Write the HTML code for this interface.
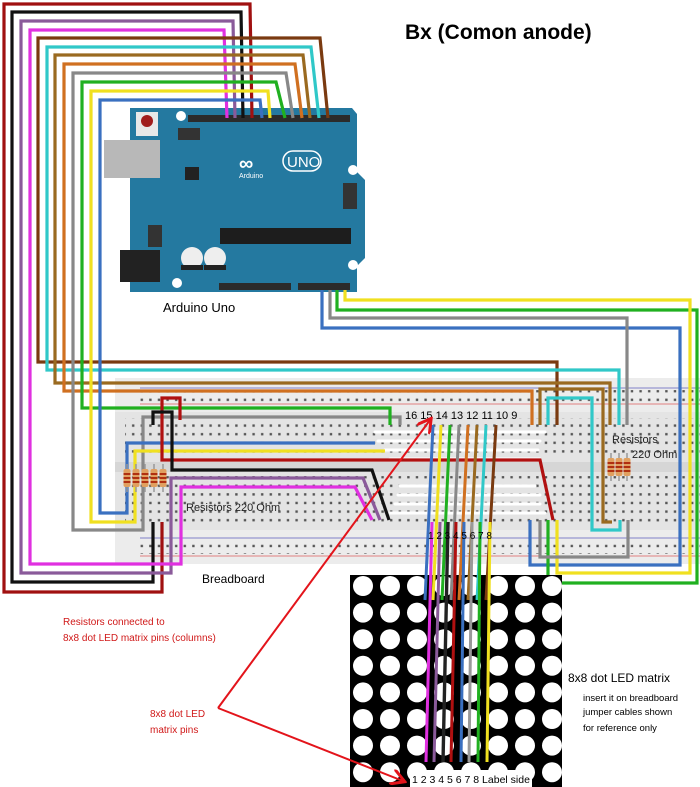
<!DOCTYPE html>
<html><head><meta charset="utf-8"><style>
html,body{margin:0;padding:0;background:#fff}
svg{display:block}
text{font-family:"Liberation Sans",sans-serif}
</style></head><body>
<svg width="700" height="787" viewBox="0 0 700 787" xmlns="http://www.w3.org/2000/svg">
<defs>
<pattern id="dots" x="0" y="0" width="8.6" height="8.6" patternUnits="userSpaceOnUse"><rect x="3" y="3" width="2.4" height="2.4" fill="#555"/></pattern>
<marker id="ah" markerWidth="8" markerHeight="8" refX="6" refY="4" orient="auto" markerUnits="strokeWidth"><path d="M0,0 L7,4 L0,8" fill="none" stroke="#e3141b" stroke-width="1.5"/></marker>
<g id="res"><line x1="0" y1="-14" x2="0" y2="14" stroke="#999" stroke-width="1.5"/><rect x="-3.5" y="-9" width="7" height="18" rx="2" fill="#e0a060"/><rect x="-3.5" y="-5" width="7" height="2" fill="#b03010"/><rect x="-3.5" y="-1" width="7" height="2" fill="#b03010"/><rect x="-3.5" y="3" width="7" height="2" fill="#b03010"/></g>
</defs>
<text x="405" y="39" font-size="21" font-weight="bold" fill="#000">Bx (Comon anode)</text>

<!-- breadboard -->
<rect x="115" y="378" width="585" height="186" fill="#e4e4e4"/>
<rect x="115" y="378" width="585" height="34" fill="#ececec"/>
<rect x="115" y="530" width="585" height="34" fill="#ececec"/>
<rect x="115" y="462" width="585" height="10" fill="#d6d6d6"/>
<line x1="140" y1="388" x2="700" y2="388" stroke="#8080c8" stroke-width="1"/>
<line x1="140" y1="404" x2="700" y2="404" stroke="#e08080" stroke-width="1"/>
<line x1="140" y1="538" x2="700" y2="538" stroke="#8080c8" stroke-width="1"/>
<line x1="140" y1="556" x2="700" y2="556" stroke="#e08080" stroke-width="1"/>
<rect x="140" y="390" width="560" height="12" fill="url(#dots)"/>
<rect x="140" y="540" width="560" height="14" fill="url(#dots)"/>
<rect x="125" y="418" width="575" height="40" fill="url(#dots)"/>
<rect x="125" y="476" width="575" height="48" fill="url(#dots)"/>
<g stroke="#fff" stroke-width="3" stroke-linecap="round">
<line x1="375" y1="432" x2="545" y2="432"/><line x1="378" y1="441" x2="540" y2="441"/><line x1="385" y1="450" x2="538" y2="450"/><line x1="390" y1="459" x2="540" y2="459"/>
<line x1="400" y1="486" x2="535" y2="486"/><line x1="398" y1="495" x2="540" y2="495"/><line x1="395" y1="504" x2="540" y2="504"/><line x1="390" y1="513" x2="545" y2="513"/>
</g>

<!-- arduino -->
<path d="M130,108 H352 L357,114 V172 L365,180 V258 L357,266 V292 H130 Z" fill="#2479a0"/>
<rect x="104" y="140" width="56" height="38" fill="#b8b8b8"/>
<rect x="120" y="250" width="40" height="32" fill="#222"/>
<rect x="136" y="112" width="22" height="24" fill="#e8e8e8"/><circle cx="147" cy="121" r="6" fill="#a01c1c"/>
<circle cx="181" cy="116" r="5" fill="#fff"/><circle cx="177" cy="283" r="5" fill="#fff"/><circle cx="353" cy="170" r="5" fill="#fff"/><circle cx="353" cy="265" r="5" fill="#fff"/>
<rect x="178" y="128" width="22" height="12" fill="#333"/>
<rect x="188" y="115" width="162" height="7" fill="#2b2b2b"/>
<rect x="220" y="228" width="131" height="16" fill="#1d1d1d"/>
<rect x="219" y="283" width="72" height="7" fill="#2b2b2b"/><rect x="298" y="283" width="52" height="7" fill="#2b2b2b"/>
<rect x="185" y="167" width="14" height="13" fill="#222"/>
<rect x="148" y="225" width="14" height="22" fill="#333"/>
<rect x="343" y="183" width="14" height="26" fill="#333"/>
<circle cx="192" cy="258" r="11" fill="#eee"/><circle cx="215" cy="258" r="11" fill="#eee"/>
<rect x="181" y="265" width="22" height="5" fill="#222"/><rect x="204" y="265" width="22" height="5" fill="#222"/>
<text x="239" y="170" font-size="20" fill="#fff" font-weight="bold">∞</text>
<rect x="283" y="151" width="38" height="20" rx="10" fill="none" stroke="#fff" stroke-width="1.5"/>
<text x="287" y="167" font-size="15" fill="#fff">UNO</text>
<text x="239" y="178" font-size="7" fill="#fff">Arduino</text>
<text x="163" y="312" font-size="13" fill="#000">Arduino Uno</text>

<g fill="none" stroke-width="3.2" stroke-linejoin="miter">
<polyline stroke="#a01010" points="252,118 250,4 4,4 4,592 162,592 162,522"/>
<polyline stroke="#111" points="243,118 241,12 12,12 12,582 153,582 153,522"/>
<polyline stroke="#8a5a9a" points="235,118 233,21 21,21 21,573 171,573 171,478 363,478 380,520"/>
<polyline stroke="#e030e0" points="227,118 224,30 30,30 30,564 181,564 181,487 355,487 372,520"/>
<polyline stroke="#7a3a10" points="328,118 320,38 38,38 38,362 557,362 557,425"/>
<polyline stroke="#30c8c8" points="319,118 311,47 47,47 47,370 619,370 619,425"/>
<polyline stroke="#9a6a20" points="310,118 303,55 55,55 55,383 610,383 610,425"/>
<polyline stroke="#d07020" points="302,118 295,64 64,64 64,391 532,391 532,425"/>
<polyline stroke="#888" points="293,118 286,73 73,73 73,530 143,530 143,417 400,417 400,425"/>
<polyline stroke="#20b020" points="285,118 276,82 82,82 82,408 390,408 390,425"/>
<polyline stroke="#f0e020" points="270,118 268,91 91,91 91,522 135,522 135,451 385,451"/>
<polyline stroke="#3a70c0" points="262,118 260,100 100,100 100,513 127,513 127,443 375,443"/>
<polyline stroke="#b01010" points="180,420 180,398 162,398 162,460 540,460 553,520"/>
<polyline stroke="#111" points="153,425 153,412 172,412 172,470 372,470 389,520"/>
<polyline stroke="#3a70c0" points="322,290 322,328 680,328 680,565 530,565 530,520"/>
<polyline stroke="#888" points="330,290 330,318 627,318 627,425"/>
<polyline stroke="#20b020" points="337,290 337,310 697,310 697,583 548,583 548,520"/>
<polyline stroke="#f0e020" points="345,290 345,300 690,300 690,573 557,573 557,520"/>
<polyline stroke="#30c8c8" points="548,425 548,398 592,398 592,530 620,530 620,520"/>
<polyline stroke="#9a6a20" points="540,425 540,389 603,389 603,522 612,522"/>
<polyline stroke="#888" points="540,520 540,557 628,557 628,520"/>
</g>

<!-- resistors -->
<use href="#res" x="127" y="478"/><use href="#res" x="136" y="478"/><use href="#res" x="145" y="478"/><use href="#res" x="154" y="478"/><use href="#res" x="163" y="478"/>
<use href="#res" x="611" y="467"/><use href="#res" x="619" y="467"/><use href="#res" x="627" y="467"/>
<text x="186" y="511" font-size="11" fill="#222">Resistors 220 Ohm</text>
<text x="612" y="443" font-size="11" fill="#222">Resistors</text>
<text x="632" y="458" font-size="11" fill="#222">220 Ohm</text>
<text x="405" y="419" font-size="11" fill="#000">16 15 14 13 12 11 10 9</text>
<text x="202" y="583" font-size="12" fill="#000">Breadboard</text>

<!-- LED matrix -->
<rect x="350" y="575" width="212" height="212" fill="#000"/>
<g fill="#fff">
<g id="row"><circle cx="363" cy="586" r="10"/><circle cx="390" cy="586" r="10"/><circle cx="417" cy="586" r="10"/><circle cx="444" cy="586" r="10"/><circle cx="471" cy="586" r="10"/><circle cx="498" cy="586" r="10"/><circle cx="525" cy="586" r="10"/><circle cx="552" cy="586" r="10"/></g>
<use href="#row" y="26.6"/><use href="#row" y="53.2"/><use href="#row" y="79.8"/><use href="#row" y="106.4"/><use href="#row" y="133"/><use href="#row" y="159.6"/><use href="#row" y="186.2"/>
</g>
<rect x="410" y="770" width="122" height="17" fill="#fff"/>

<g fill="none" stroke-width="3">
<polyline stroke="#3a70c0" points="433,425 425,600"/>
<polyline stroke="#f0e020" points="441,425 433,600"/>
<polyline stroke="#20b020" points="450,425 442,600"/>
<polyline stroke="#888" points="459,425 451,600"/>
<polyline stroke="#d07020" points="468,425 459,600"/>
<polyline stroke="#9a6a20" points="477,425 468,600"/>
<polyline stroke="#30c8c8" points="486,425 477,600"/>
<polyline stroke="#7a3a10" points="496,425 486,600"/>
<polyline stroke="#e030e0" points="432,522 426,762"/>
<polyline stroke="#8a5a9a" points="440,522 434,762"/>
<polyline stroke="#222" stroke-width="3.4" points="448,522 443,762"/>
<polyline stroke="#b01010" points="456,522 451,762"/>
<polyline stroke="#3a70c0" points="464,522 461,762"/>
<polyline stroke="#999" points="472,522 469,762"/>
<polyline stroke="#20b020" points="480,522 478,762"/>
<polyline stroke="#f0e020" points="490,522 487,762"/>
</g>
<text x="428" y="539" font-size="10" fill="#000">1 2 3 4 5 6 7 8</text>
<text x="412" y="783" font-size="10.5" fill="#000">1 2 3 4 5 6 7 8 Label side</text>

<g stroke="#e3141b" stroke-width="2" fill="none">
<polyline points="218,708 430,420" marker-end="url(#ah)"/>
<polyline points="218,708 403,781" marker-end="url(#ah)"/>
</g>

<text x="63" y="625" font-size="10" fill="#d01818">Resistors connected to</text>
<text x="63" y="641" font-size="10" fill="#d01818">8x8 dot LED matrix pins (columns)</text>
<text x="150" y="717" font-size="10" fill="#d01818">8x8 dot LED</text>
<text x="150" y="733" font-size="10" fill="#d01818">matrix pins</text>
<text x="568" y="682" font-size="12" fill="#000">8x8 dot LED matrix</text>
<text x="583" y="701" font-size="9.5" fill="#000">insert it on breadboard</text>
<text x="583" y="715" font-size="9.5" fill="#000">jumper cables shown</text>
<text x="583" y="731" font-size="9.5" fill="#000">for reference only</text>
</svg>
</body></html>
